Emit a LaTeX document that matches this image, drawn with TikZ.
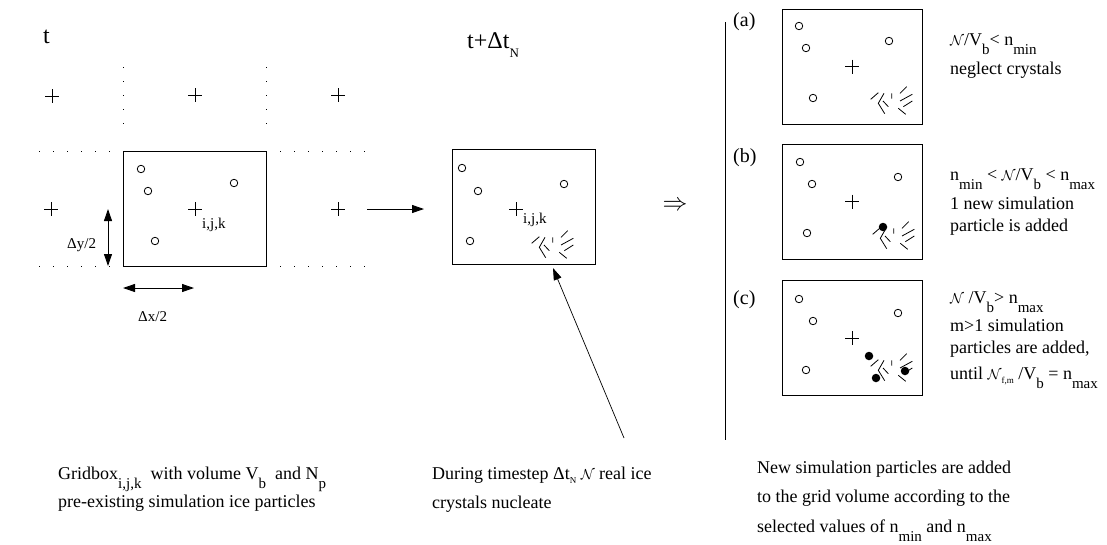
\documentclass[tikz,border=0pt]{standalone}
\usepackage{fontspec}
\setmainfont{Liberation Serif}
\usetikzlibrary{arrows.meta,positioning,calc}
\newcommand{\lowsub}[1]{\raisebox{-9pt}{\fontsize{15}{15}\selectfont #1}}
\newcommand{\tinysub}[1]{\raisebox{-4pt}{\fontsize{9}{9}\selectfont #1}}
\newcommand{\numcal}{{\fontsize{14}{14}\selectfont$\mathcal{N}$}}
\tikzset{
  icebox/.style={
    draw=black, line width=0.9pt, inner sep=0pt,
    minimum width=143pt, minimum height=115pt
  },
  icesmallbox/.style={icebox, minimum width=140pt},
  icering/.style={circle, draw=black, line width=0.8pt, minimum size=7.5pt, inner sep=0pt},
  icedot/.style={circle, fill=black, minimum size=8.5pt, inner sep=0pt},
  icetext/.style={font=\fontsize{18}{22}\selectfont, anchor=base west, inner sep=0pt},
  icetitle/.style={font=\fontsize{24}{28}\selectfont, anchor=base west, inner sep=0pt},
  icelabel/.style={font=\fontsize{15}{18}\selectfont, anchor=base west, inner sep=0pt},
  icecase/.style={font=\fontsize{20}{24}\selectfont, anchor=base west, inner sep=0pt},
  icearrow/.style={-{Triangle[length=12pt,width=8pt]}, line width=0.9pt},
  icedouble/.style={{Triangle[length=12pt,width=8pt]}-{Triangle[length=12pt,width=8pt]}, line width=0.9pt},
  icepointer/.style={-{Triangle[length=12pt,width=8pt]}, line width=0.7pt},
  iceguide/.style={line width=1pt, dash pattern=on 1pt off 13pt},
  pics/gridplus/.style={code={
    \draw[line width=0.9pt] (-7,0) -- (7,0) (0,-7) -- (0,7);
  }},
  pics/crystals/.style={code={
    \draw[line width=0.8pt] (-20.3,-1.7) -- (-12.7,-8.3)
      (-7,-7.7) -- (-12.7,2.3) -- (-6.3,12.7)
      (-8,0) -- (-2.7,5.7)
      (0.7,-7.7) -- (0.7,-2.3)
      (9,-7.7) -- (15.7,-14.3)
      (9,0) -- (21.3,-6.7)
      (12.3,5.7) -- (21.3,0)
      (7.3,7.3) -- (14.7,13.3);
  }}
}
\begin{document}
\begin{tikzpicture}[x=1pt,y=-1pt]
  \useasboundingbox (0,0) rectangle (1107,544);

  % time t: gridbox and its neighbours
  \node[icetitle] (tnow) at (43,43) {t};
  \draw[iceguide] (123,67) -- (123,137) (266,67) -- (266,137);
  \draw[iceguide] (39,151) -- (110,151) (280,151) -- (365,151);
  \draw[iceguide] (39,266) -- (110,266) (280,266) -- (365,266);
  \node[icebox] (boxnow) at (194.5,208.5) {};
  \foreach \px/\py in {52/96,195/95,338/95,51/209,195/209,338/209}
    \pic at (\px,\py) {gridplus};
  \foreach \px/\py [count=\i] in {141/169,148/191,234/183,155/241}
    \node[icering] (ringnow\i) at (\px,\py) {};
  \node[icelabel] (ijknow) at (202,228) {i,j,k};
  \coordinate (dytop) at (108,209);
  \coordinate (dybot) at (108,266);
  \draw[icedouble] (dytop) -- (dybot);
  \node[icelabel] (dylab) at (67,248) {Δy/2};
  \coordinate (dxleft) at (123,288);
  \coordinate (dxright) at (194,288);
  \draw[icedouble] (dxleft) -- (dxright);
  \node[icelabel] (dxlab) at (138,321) {Δx/2};

  % time t + dt_N
  \coordinate (stepfrom) at (367,209);
  \coordinate (stepto) at (424,209);
  \draw[icearrow] (stepfrom) -- (stepto);
  \node[icetitle] (tnext) at (467,48) {t+Δt\raisebox{-9pt}{\fontsize{13}{13}\selectfont N}};
  \node[icebox] (boxnext) at (524,207) {};
  \pic at (516,209) {gridplus};
  \foreach \px/\py [count=\i] in {462/168,478/191,564/184,470/241}
    \node[icering] (ringnext\i) at (\px,\py) {};
  \node[icelabel] (ijknext) at (523,223) {i,j,k};
  \pic at (552,245) {crystals};
  \coordinate (nucfrom) at (624,438);
  \coordinate (nucto) at (553,268);
  \draw[icepointer] (nucfrom) -- (nucto);

  \node[font=\fontsize{28}{28}\selectfont, inner sep=0pt] (implies) at (675,206) {$\Rightarrow$};
  \coordinate (bartop) at (725,22);
  \coordinate (barbot) at (725,440);
  \draw[line width=0.9pt] (bartop) -- (barbot);

  % three cases
  \foreach \cy/\cl [count=\i] in {66.5/a,201.5/b,338/c} {
    \node[icesmallbox] (case\cl) at (852,\cy) {};
    \pic at (852,\cy) {gridplus};
  }
  \node[icecase] (laba) at (733,26) {(a)};
  \node[icecase] (labb) at (733,162) {(b)};
  \node[icecase] (labc) at (733,304) {(c)};
  \foreach \px/\py in {799/26,806/48,889/41,813/98,
                      800/162,812/184,898/177,807/233,
                      799/299,813/321,898/313,806/370}
    \node[icering] at (\px,\py) {};
  \pic at (891,101) {crystals};
  \pic at (893,236) {crystals};
  \pic at (891,368) {crystals};
  \node[icedot] (newb) at (883,227) {};
  \node[icedot] (newc1) at (869,356) {};
  \node[icedot] (newc2) at (876,378) {};
  \node[icedot] (newc3) at (905,371) {};

  \node[icetext] (ruleaone) at (950,45) {\numcal/V\lowsub{b}< n\lowsub{min}};
  \node[icetext] (ruleatwo) at (950,74) {neglect crystals};
  \node[icetext] (rulebone) at (950,180) {n\lowsub{min} < \numcal/V\lowsub{b} < n\lowsub{max}};
  \node[icetext] (rulebtwo) at (950,209) {1 new simulation};
  \node[icetext] (rulebthree) at (950,231) {particle is added};
  \node[icetext] (rulecone) at (950,303) {\numcal\ /V\lowsub{b}> n\lowsub{max}};
  \node[icetext] (ruletwo) at (950,331) {m>1 simulation};
  \node[icetext] (rulecthree) at (950,353) {particles are added,};
  \node[icetext] (rulecfour) at (950,379) {until \numcal\tinysub{f,m} /V\lowsub{b} = n\lowsub{max}};

  % captions
  \node[icetext] (capnowone) at (58,479) {Gridbox\lowsub{i,j,k}\ \ with volume V\lowsub{b}\ \ and N\lowsub{p}};
  \node[icetext] (capnowtwo) at (58,507) {pre-existing simulation ice particles};
  \node[icetext] (capnextone) at (432,479) {During timestep Δt\tinysub{N} \numcal\ real ice};
  \node[icetext] (capnexttwo) at (432,508) {crystals nucleate};
  \node[icetext] (capcaseone) at (757,473) {New simulation particles are added};
  \node[icetext] (capcasetwo) at (757,502) {to the grid volume according to the};
  \node[icetext] (capcasethree) at (757,532) {selected values of n\lowsub{min} and n\lowsub{max}};
\end{tikzpicture}
\end{document}
